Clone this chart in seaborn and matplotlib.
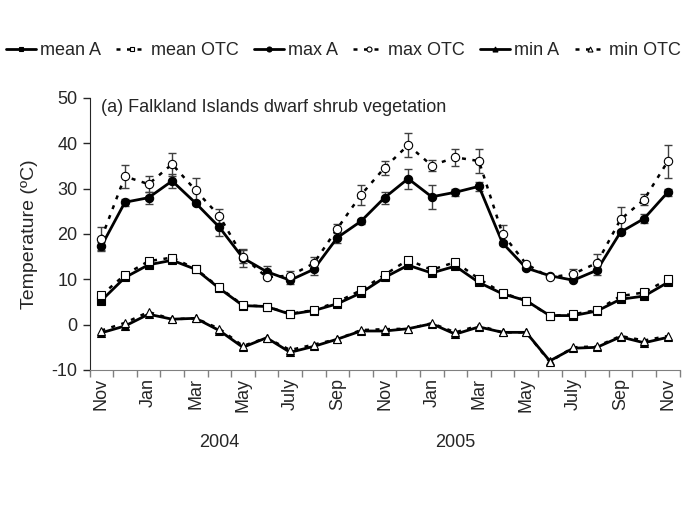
import numpy as np
import pandas as pd
import matplotlib
matplotlib.use('Agg')
import matplotlib.pyplot as plt
import seaborn as sns

months = ['Nov', 'Dec', 'Jan', 'Feb', 'Mar', 'Apr', 'May', 'Jun', 'July', 'Aug', 'Sep', 'Oct',
          'Nov', 'Dec', 'Jan', 'Feb', 'Mar', 'Apr', 'May', 'Jun', 'July', 'Aug', 'Sep', 'Oct', 'Nov']

max_a = [17.3, 27.0, 28.0, 31.7, 26.8, 21.5, 14.7, 11.7, 9.8, 12.2, 19.2, 22.8,
         28.0, 32.2, 28.2, 29.2, 30.5, 18.0, 12.5, 10.8, 9.8, 12.0, 20.4, 23.4, 29.2]
max_a_err = [1.0, 0.8, 1.3, 1.5, 0.5, 2.0, 2.0, 1.2, 0.8, 1.2, 1.2, 0.5,
             1.3, 2.2, 2.7, 0.8, 1.0, 0.5, 0.5, 0.0, 0.0, 1.0, 0.5, 1.0, 0.8]
max_otc = [19.0, 32.7, 31.0, 35.4, 29.6, 24.0, 15.0, 10.5, 10.8, 13.5, 21.2, 28.6,
           34.6, 39.6, 35.1, 36.9, 36.1, 20.0, 13.4, 10.4, 11.2, 13.6, 23.2, 27.6, 36.0]
max_otc_err = [2.5, 2.5, 1.8, 2.5, 2.8, 1.5, 1.5, 0.5, 1.0, 1.5, 1.0, 2.2,
               1.5, 2.7, 1.3, 1.8, 2.7, 2.0, 0.5, 0.0, 1.0, 2.0, 2.7, 1.3, 3.7]
mean_a = [5.3, 10.4, 13.2, 14.2, 12.2, 8.0, 4.2, 4.0, 2.3, 3.1, 4.6, 7.0,
          10.4, 13.1, 11.4, 12.9, 9.3, 6.8, 5.3, 2.0, 2.0, 3.0, 5.6, 6.3, 9.3]
mean_otc = [6.5, 11.0, 14.0, 14.8, 12.3, 8.2, 4.3, 4.0, 2.4, 3.2, 5.0, 7.6,
            11.0, 14.3, 12.1, 13.8, 10.1, 7.0, 5.3, 1.9, 2.3, 3.2, 6.3, 7.1, 10.0]
min_a = [-1.8, -0.3, 2.3, 1.2, 1.4, -1.3, -5.0, -2.9, -6.1, -4.8, -3.2, -1.4,
         -1.4, -0.9, 0.2, -2.1, -0.5, -1.7, -1.7, -8.0, -5.2, -5.0, -2.7, -4.0, -2.8]
min_otc = [-1.3, 0.4, 2.8, 1.2, 1.4, -0.9, -4.7, -2.9, -5.6, -4.4, -3.2, -1.2,
           -1.0, -0.9, 0.3, -1.7, -0.2, -1.7, -1.7, -8.2, -5.0, -4.8, -2.5, -3.5, -2.5]
years = ['2004', '2005']

sns.set_style('ticks')
plt.rcParams['font.family'] = ['Liberation Sans', 'DejaVu Sans']
plt.rcParams['axes.unicode_minus'] = False

fig = plt.figure(figsize=(6.85, 5.13), dpi=100)
ax = fig.add_axes([0.1307, 0.2788, 0.8613, 0.5302])
x = np.arange(len(months))

solid = '-'
dotted = (0, (1.6, 2.6))
series = [
    ('mean A', mean_a, 's', 'black', solid),
    ('mean OTC', mean_otc, 's', 'white', dotted),
    ('max A', max_a, 'o', 'black', solid),
    ('max OTC', max_otc, 'o', 'white', dotted),
    ('min A', min_a, '^', 'black', solid),
    ('min OTC', min_otc, '^', 'white', dotted),
]

# error bars on the max series
ax.errorbar(x, max_a, yerr=max_a_err, fmt='none', ecolor='0.25', elinewidth=1, capsize=3, zorder=2)
ax.errorbar(x, max_otc, yerr=max_otc_err, fmt='none', ecolor='0.25', elinewidth=1, capsize=3, zorder=2)

for i, (name, vals, mk, fc, ls) in enumerate(series):
    df = pd.DataFrame({'x': x, 'y': vals})
    lw = 2.0 if ls == solid else 1.8
    sns.lineplot(data=df, x='x', y='y', ax=ax, color='black', linewidth=lw, linestyle=ls,
                 marker=mk, markersize=6, markerfacecolor=fc, markeredgecolor='black',
                 markeredgewidth=0.8, label=name, zorder=3 + i)

ax.set_xlim(-0.5, len(months) - 0.5)
ax.set_ylim(-10, 50)
ax.set_yticks(np.arange(-10, 51, 10))
ax.tick_params(axis='y', labelsize=13, direction='out', length=5, width=1)
ax.set_xticks(x[::2])
ax.set_xticklabels(months[::2], rotation=90, fontsize=13)
ax.tick_params(axis='x', which='major', length=0, pad=6)
ax.set_xticks(np.arange(-0.5, len(months), 1), minor=True)
ax.tick_params(axis='x', which='minor', direction='out', length=5, width=1, color='0.5')
ax.set_xlabel('')
ax.set_ylabel('Temperature (ºC)', fontsize=14, labelpad=10)
ax.spines['top'].set_visible(False)
ax.spines['right'].set_visible(False)
ax.spines['bottom'].set_color('0.5')

ax.text(0.0, 48, '(a) Falkland Islands dwarf shrub vegetation', fontsize=13, va='center', ha='left')

for yr, pos in zip(years, [5, 15]):
    ax.text(pos, -0.265, yr, transform=ax.get_xaxis_transform(), ha='center', va='center', fontsize=13)

leg = ax.legend(loc='center', bbox_to_anchor=(0.43, 1.175), ncol=6, frameon=False, fontsize=13,
                handlelength=1.7, handletextpad=0.2, columnspacing=0.85, borderaxespad=0,
                markerscale=0.6)

fig.savefig('out.png', dpi=100)
